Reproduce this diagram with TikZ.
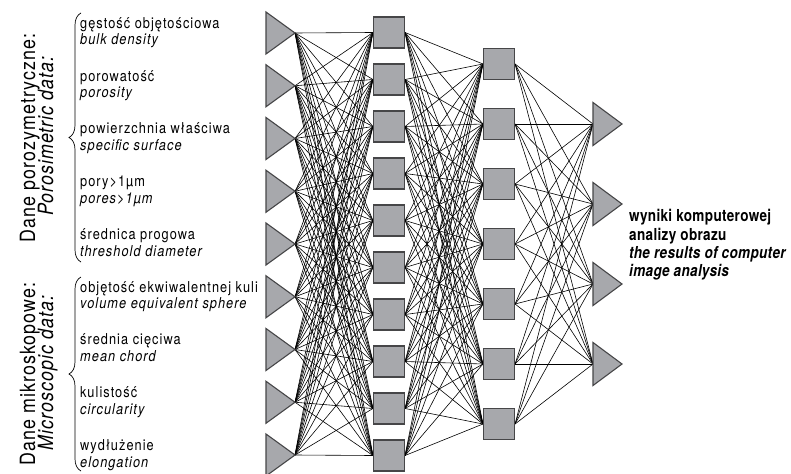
\documentclass[tikz,border=0pt]{standalone}
\usepackage{fontspec}
\setmainfont{TeX Gyre Heros}
\newfontfamily\lblfont{TeX Gyre Heros}[FakeStretch=0.85, LetterSpace=7]
\newfontfamily\sidefont{TeX Gyre Heros}[FakeStretch=0.85, LetterSpace=5]
\newfontfamily\resfont{TeX Gyre Heros}[FakeStretch=0.82, LetterSpace=2]
\usetikzlibrary{decorations.pathreplacing}
\pgfdeclarelayer{bg}
\pgfsetlayers{bg,main}
\definecolor{unitfill}{RGB}{167,168,172}
\definecolor{unitedge}{RGB}{70,70,72}
\tikzset{
  unit/.style={fill=unitfill, draw=unitedge, line width=1.1pt},
  sq/.style={unit, rectangle, minimum size=31pt, inner sep=0pt},
  conn/.style={black, line width=0.6pt},
  lbl/.style={anchor=base west, inner sep=0pt, font=\lblfont\fontsize{15}{16}\selectfont},
  lbli/.style={lbl, font=\lblfont\fontsize{15}{16}\selectfont\itshape},
  side/.style={rotate=90, anchor=base, inner sep=0pt, font=\sidefont\fontsize{21}{20}\selectfont},
  sidei/.style={side, font=\sidefont\fontsize{21}{20}\selectfont\itshape},
  res/.style={anchor=base west, inner sep=0pt, font=\resfont\bfseries\fontsize{16.5}{16}\selectfont},
  resi/.style={res, font=\resfont\bfseries\itshape\fontsize{16.5}{16}\selectfont},
  brc/.style={decorate, decoration={brace, amplitude=12pt}, line width=0.7pt}
}
\begin{document}
\begin{tikzpicture}[x=1pt,y=-1pt]
\useasboundingbox (0,0) rectangle (791,473);
% input triangles
\foreach \i in {1,...,9} {
  \pgfmathsetmacro{\t}{33+52.75*(\i-1)}
  \coordinate (in\i) at (295,\t);
  \filldraw[unit] (266,\t-21) -- (in\i) -- (266,\t+21) -- cycle;
}
% hidden layer 1
\foreach \j in {1,...,10} {
  \pgfmathsetmacro{\t}{32.5+47*(\j-1)}
  \node[sq] (a\j) at (389,\t) {};
}
% hidden layer 2
\foreach \j in {1,...,7} {
  \pgfmathsetmacro{\t}{64+60*(\j-1)}
  \node[sq] (b\j) at (499,\t) {};
}
% output triangles
\foreach \j in {1,...,4} {
  \pgfmathsetmacro{\t}{124+80*(\j-1)}
  \coordinate (o\j) at (593,\t);
  \filldraw[unit] (593,\t-21.5) -- (622,\t) -- (593,\t+21.5) -- cycle;
}
% connections
\begin{pgfonlayer}{bg}
\foreach \i in {1,...,9} \foreach \j in {1,...,10} \draw[conn] (in\i) -- (a\j.west);
\foreach \i in {1,...,10} \foreach \j in {1,...,7} \draw[conn] (a\i.east) -- (b\j.west);
\foreach \i in {1,...,7} \foreach \j in {1,...,4} \draw[conn] (b\i.east) -- (o\j);
\end{pgfonlayer}
% labels (line 1 baseline = tip - 4.7, line 2 baseline = tip + 12)
\node[lbl]  (l1a) at (80,28.3)  {gęstość objętościowa};
\node[lbli] (l1b) at (80,45)    {bulk density};
\node[lbl]  (l2a) at (80,81.05) {porowatość};
\node[lbli] (l2b) at (80,97.75) {porosity};
\node[lbl]  (l3a) at (80,133.8) {powierzchnia właściwa};
\node[lbli] (l3b) at (80,150.5) {specific surface};
\node[lbl]  (l4a) at (80,186.55) {pory>1µm};
\node[lbli] (l4b) at (80,203.25) {pores>1µm};
\node[lbl]  (l5a) at (80,239.3) {średnica progowa};
\node[lbli] (l5b) at (80,256)   {threshold diameter};
\node[lbl]  (l6a) at (80,292.05) {objętość ekwiwalentnej kuli};
\node[lbli] (l6b) at (80,308.75) {volume equivalent sphere};
\node[lbl]  (l7a) at (80,344.8) {średnia cięciwa};
\node[lbli] (l7b) at (80,361.5) {mean chord};
\node[lbl]  (l8a) at (80,397.55) {kulistość};
\node[lbli] (l8b) at (80,414.25) {circularity};
\node[lbl]  (l9a) at (80,450.3) {wydłużenie};
\node[lbli] (l9b) at (80,467)   {elongation};
% braces
\draw[brc] (81,262) -- (81,13);
\draw[brc] (81,471) -- (81,277);
% side titles
\node[side]  (s1a) at (35,138) {Dane porozymetryczne:};
\node[sidei] (s1b) at (53,136) {Porosimetric data:};
\node[side]  (s2a) at (35,374) {Dane mikroskopowe:};
\node[sidei] (s2b) at (53,373) {Microscopic data:};
% result text
\node[res]  (r1) at (629,221.7) {wyniki komputerowej};
\node[res]  (r2) at (629,240)   {analizy obrazu};
\node[resi] (r3) at (629,258.3) {the results of computer};
\node[resi] (r4) at (629,276.6) {image analysis};
\end{tikzpicture}
\end{document}
